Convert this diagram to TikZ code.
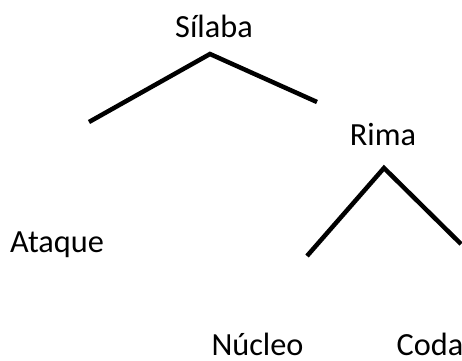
\documentclass[tikz,border=0pt]{standalone}
\usepackage{fontspec}
\setmainfont{Carlito}
\usepackage{tikz}

\begin{document}
\begin{tikzpicture}[x=1pt, y=-1pt,
  word/.style={anchor=base, inner sep=0pt, font=\fontsize{32.3}{38}\selectfont},
  branch/.style={line width=4.5pt, line join=miter}]
\useasboundingbox (0,0) rectangle (462,360);
%%%  nodes

% word nodes
\node [word] (silaba) at (214, 37) {Sílaba};
\node [word] (rima) at (383, 145) {Rima};
\node [word] (ataque) at (57, 252) {Ataque};
\node [word] (nucleo) at (257.5, 355) {Núcleo};
\node [word] (coda) at (430, 355) {Coda};

% branch points
\coordinate (s) at (210, 54);
\coordinate (sl) at (89, 122);
\coordinate (sr) at (317, 102);
\coordinate (r) at (384, 168);
\coordinate (rl) at (307, 256);
\coordinate (rr) at (461, 244);

%%% edges

% silaba
\draw [branch] (sl) -- (s) -- (sr);

% rima
\draw [branch] (rl) -- (r) -- (rr);
\end{tikzpicture}
\end{document}
